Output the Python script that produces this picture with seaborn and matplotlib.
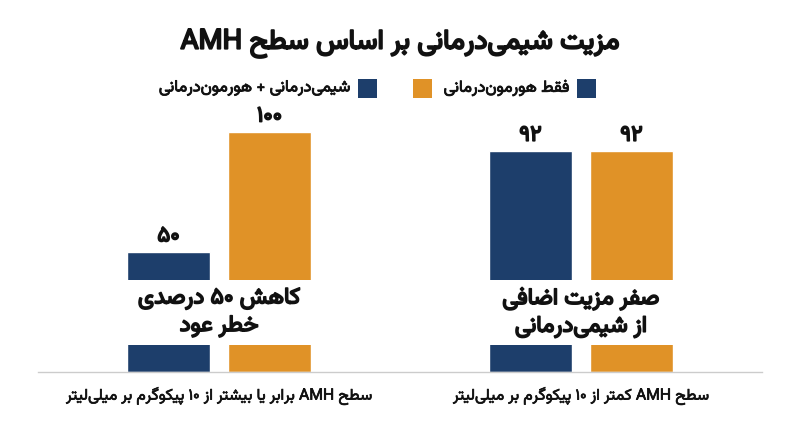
import re
import pandas as pd
import matplotlib
matplotlib.use("Agg")
import matplotlib.pyplot as plt
import matplotlib.patheffects as pe
from matplotlib.patches import Rectangle
import seaborn as sns

# ================================
# DATA
# ================================
title = "مزیت شیمی‌درمانی بر اساس سطح AMH"
groups = [
    "سطح AMH برابر یا بیشتر از ۱۰ پیکوگرم بر میلی‌لیتر",
    "سطح AMH کمتر از ۱۰ پیکوگرم بر میلی‌لیتر",
]
series = ["شیمی‌درمانی + هورمون‌درمانی", "فقط هورمون‌درمانی"]
blue_values = [50, 92]
orange_values = [100, 92]
notes = ["کاهش ۵۰ درصدی\nخطر عود", "صفر مزیت اضافی\nاز شیمی‌درمانی"]
legend_labels = ["فقط هورمون‌درمانی", "", "شیمی‌درمانی + هورمون‌درمانی"]

BLUE = "#1d3e6b"
ORANGE = "#e09227"
INK = "#111111"

# ================================
# persian shaping (no arabic_reshaper here)
# ================================
FORMS = {
    "ا": ("\uFE8D", "\uFE8E", None, None),
    "آ": ("\uFE81", "\uFE82", None, None),
    "ب": ("\uFE8F", "\uFE90", "\uFE91", "\uFE92"),
    "پ": ("\uFB56", "\uFB57", "\uFB58", "\uFB59"),
    "ت": ("\uFE95", "\uFE96", "\uFE97", "\uFE98"),
    "ث": ("\uFE99", "\uFE9A", "\uFE9B", "\uFE9C"),
    "ج": ("\uFE9D", "\uFE9E", "\uFE9F", "\uFEA0"),
    "چ": ("\uFB7A", "\uFB7B", "\uFB7C", "\uFB7D"),
    "ح": ("\uFEA1", "\uFEA2", "\uFEA3", "\uFEA4"),
    "خ": ("\uFEA5", "\uFEA6", "\uFEA7", "\uFEA8"),
    "د": ("\uFEA9", "\uFEAA", None, None),
    "ذ": ("\uFEAB", "\uFEAC", None, None),
    "ر": ("\uFEAD", "\uFEAE", None, None),
    "ز": ("\uFEAF", "\uFEB0", None, None),
    "ژ": ("\uFB8A", "\uFB8B", None, None),
    "س": ("\uFEB1", "\uFEB2", "\uFEB3", "\uFEB4"),
    "ش": ("\uFEB5", "\uFEB6", "\uFEB7", "\uFEB8"),
    "ص": ("\uFEB9", "\uFEBA", "\uFEBB", "\uFEBC"),
    "ض": ("\uFEBD", "\uFEBE", "\uFEBF", "\uFEC0"),
    "ط": ("\uFEC1", "\uFEC2", "\uFEC3", "\uFEC4"),
    "ظ": ("\uFEC5", "\uFEC6", "\uFEC7", "\uFEC8"),
    "ع": ("\uFEC9", "\uFECA", "\uFECB", "\uFECC"),
    "غ": ("\uFECD", "\uFECE", "\uFECF", "\uFED0"),
    "ف": ("\uFED1", "\uFED2", "\uFED3", "\uFED4"),
    "ق": ("\uFED5", "\uFED6", "\uFED7", "\uFED8"),
    "ک": ("\uFB8E", "\uFB8F", "\uFB90", "\uFB91"),
    "گ": ("\uFB92", "\uFB93", "\uFB94", "\uFB95"),
    "ل": ("\uFEDD", "\uFEDE", "\uFEDF", "\uFEE0"),
    "م": ("\uFEE1", "\uFEE2", "\uFEE3", "\uFEE4"),
    "ن": ("\uFEE5", "\uFEE6", "\uFEE7", "\uFEE8"),
    "و": ("\uFEED", "\uFEEE", None, None),
    "ه": ("\uFEE9", "\uFEEA", "\uFEEB", "\uFEEC"),
    "ی": ("\uFBFC", "\uFBFD", "\uFBFE", "\uFBFF"),
}


def shape(s):
    out = []
    for i, c in enumerate(s):
        if c not in FORMS:
            out.append(c)
            continue
        p = s[i - 1] if i > 0 else ""
        n = s[i + 1] if i + 1 < len(s) else ""
        join_prev = p in FORMS and FORMS[p][2] is not None
        join_next = FORMS[c][2] is not None and n in FORMS
        iso, fin, ini, med = FORMS[c]
        if join_prev and join_next:
            out.append(med)
        elif join_prev:
            out.append(fin)
        elif join_next:
            out.append(ini)
        else:
            out.append(iso)
    return "".join(out).replace("\u200c", "")


def rtl(text):
    lines = []
    for line in text.split("\n"):
        runs = re.findall(r"[A-Za-z0-9۰-۹]+|[^A-Za-z0-9۰-۹]+", shape(line))
        vis = "".join(r if re.match(r"[A-Za-z0-9۰-۹]", r) else r[::-1] for r in reversed(runs))
        lines.append(vis)
    return "\n".join(lines)


def fa(num):
    return str(num).translate(str.maketrans("0123456789", "۰۱۲۳۴۵۶۷۸۹"))


def bold(w, color=INK):
    return [pe.withStroke(linewidth=w, foreground=color)]


# ================================
# PLOT
# ================================
sns.set_style("white")
plt.rcParams["font.family"] = ["Vazirmatn", "DejaVu Sans"]

df = pd.DataFrame({
    "group": groups * 2,
    "series": [series[0]] * len(groups) + [series[1]] * len(groups),
    "value": blue_values + orange_values,
})

fig = plt.figure(figsize=(8, 4.47), dpi=100)
ax = fig.add_axes([0.0475, 0.168, 0.905, 0.59])

sns.barplot(
    data=df, x="group", y="value", hue="series",
    order=groups, hue_order=series,
    palette=[BLUE, ORANGE], width=0.558, gap=0.18,
    saturation=1, legend=False, ax=ax,
)

for cont in ax.containers:
    ax.bar_label(cont, labels=[fa(int(v)) for v in cont.datavalues],
                 padding=4, fontsize=16, color=INK, path_effects=bold(1.2))

# white band with the note text over each pair of bars
for i, note in enumerate(notes):
    ax.add_patch(Rectangle((i - 0.3, 11.3), 0.6, 27, facecolor="white",
                           edgecolor="none", zorder=3))
    ax.text(i, 24.8, rtl(note), ha="center", va="center", multialignment="center",
            fontsize=16.5, color=INK, linespacing=1.35, zorder=4, path_effects=bold(1.2))

ax.set_xlim(-0.5, 1.5)
ax.set_ylim(0, 110)
ax.set_xticks(range(len(groups)))
ax.set_xticklabels([rtl(g) for g in groups], fontsize=11.3, color=INK)
for lab in ax.get_xticklabels():
    lab.set_path_effects(bold(0.5))
ax.tick_params(axis="x", length=0, pad=11)
ax.set_yticks([])
ax.set_xlabel("")
ax.set_ylabel("")
for side in ["left", "right", "top"]:
    ax.spines[side].set_visible(False)
ax.spines["bottom"].set_color("#cccccc")
ax.spines["bottom"].set_linewidth(1)

fig.text(0.5, 0.903, rtl(title), ha="center", va="center", fontsize=19.8,
         color=INK, path_effects=bold(1.4))

# legend drawn right-to-left like the original
sq_w, sq_h = 19 / 800, 19 / 447
legend_colors = [BLUE, ORANGE, BLUE]
legend_right = [596 / 800, 432 / 800, 377 / 800]
for col, right, lab in zip(legend_colors, legend_right, legend_labels):
    fig.add_artist(Rectangle((right - sq_w, 0.803 - sq_h / 2), sq_w, sq_h,
                             facecolor=col, edgecolor="none", transform=fig.transFigure))
    if lab:
        fig.text(right - sq_w - 8 / 800, 0.803, rtl(lab), ha="right", va="center",
                 fontsize=11.8, color=INK, path_effects=bold(0.6))

fig.savefig("out.png", dpi=100)
